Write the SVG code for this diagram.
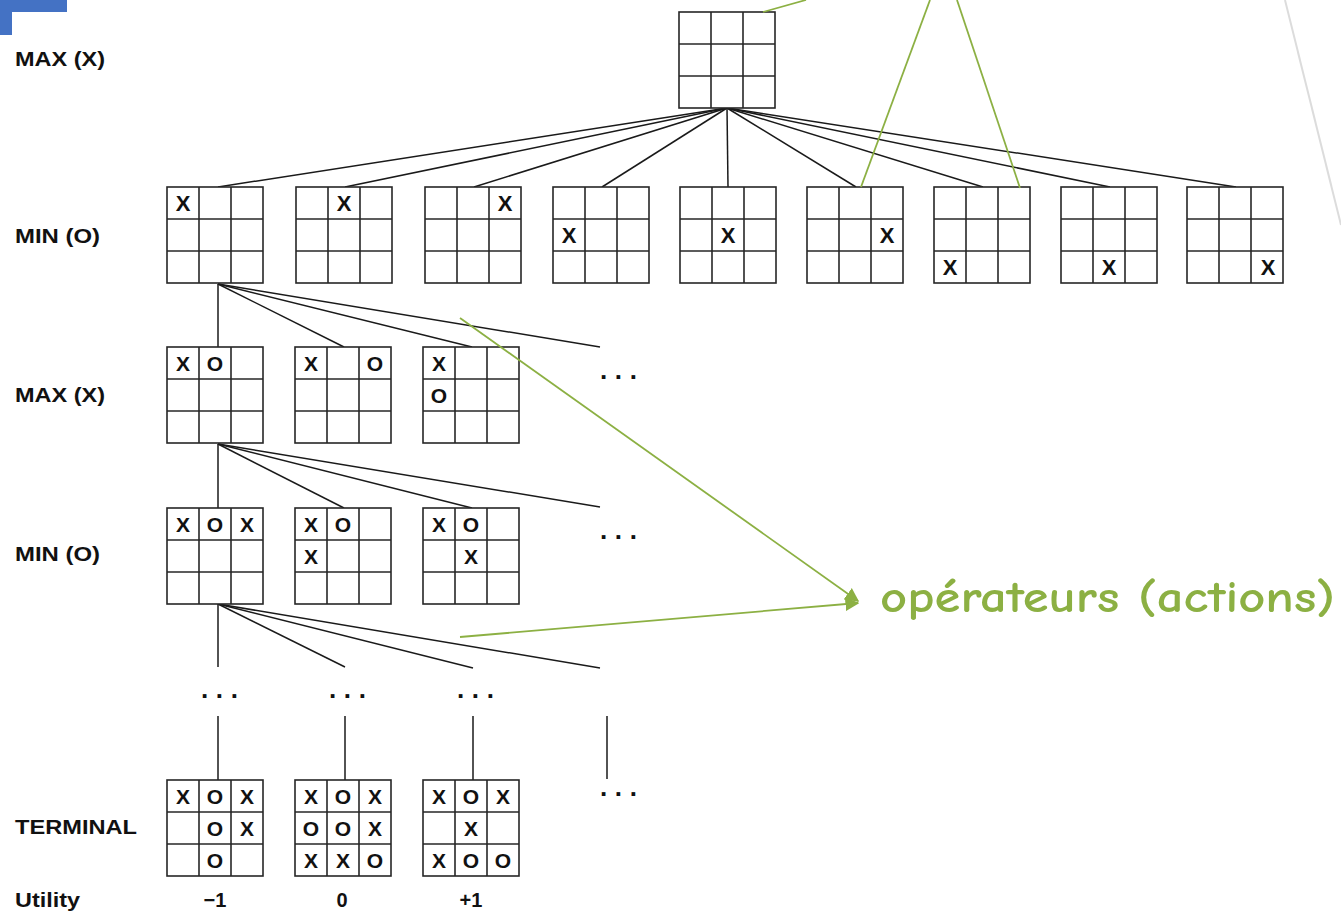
<svg xmlns="http://www.w3.org/2000/svg" xmlns:xlink="http://www.w3.org/1999/xlink" width="1341" height="917" viewBox="0 0 1341 917">
<style>
.grid{fill:#fff;stroke:#262626;stroke-width:1.6}
.gl{stroke:#262626;stroke-width:1.6}
.m{font-family:"Liberation Sans",Arial,sans-serif;font-weight:bold;font-size:21px;fill:#111;text-anchor:middle}
.m1{font-size:22px}
.lab{font-family:"Liberation Sans",Arial,sans-serif;font-weight:bold;font-size:21px;fill:#111}
.ut{font-family:"Liberation Sans",Arial,sans-serif;font-weight:bold;font-size:20px;fill:#111;text-anchor:middle}
.dots{font-family:"Liberation Sans",Arial,sans-serif;font-weight:bold;font-size:26px;fill:#111;letter-spacing:7.6px}
.e{stroke:#1a1a1a;stroke-width:1.5;fill:none}
.g{stroke:#8CB043;stroke-width:1.8;fill:none}
.note{font-family:"Comic Neue","Comic Sans MS","DejaVu Sans",sans-serif;font-weight:bold;font-size:44px;fill:#8CB043}
</style>
<defs>
<g id="board">
<rect class="grid" x="0" y="0" width="96" height="96"/>
<line class="gl" x1="32" y1="0" x2="32" y2="96"/>
<line class="gl" x1="64" y1="0" x2="64" y2="96"/>
<line class="gl" x1="0" y1="32" x2="96" y2="32"/>
<line class="gl" x1="0" y1="64" x2="96" y2="64"/>
</g>
<marker id="ah2" viewBox="0 0 10 10" refX="9" refY="5" markerWidth="14" markerHeight="14" orient="auto" markerUnits="userSpaceOnUse">
<path d="M0,0 L10,5 L0,10 z" fill="#8CB043"/>
</marker>
</defs>

<path d="M0,0 H67 V12 H12 V35 H0 Z" fill="#4472C4"/>
<line x1="1285" y1="0" x2="1341" y2="225" stroke="#dcdcdc" stroke-width="2"/>

<g id="labels">
<text class="lab" x="15" y="66" textLength="90" lengthAdjust="spacingAndGlyphs">MAX (X)</text>
<text class="lab" x="15" y="243" textLength="85" lengthAdjust="spacingAndGlyphs">MIN (O)</text>
<text class="lab" x="15" y="402" textLength="90" lengthAdjust="spacingAndGlyphs">MAX (X)</text>
<text class="lab" x="15" y="561" textLength="85" lengthAdjust="spacingAndGlyphs">MIN (O)</text>
<text class="lab" x="15" y="834" textLength="122" lengthAdjust="spacingAndGlyphs">TERMINAL</text>
<text class="lab" x="15" y="907" textLength="65" lengthAdjust="spacingAndGlyphs">Utility</text>
</g>

<g id="connectors">
<line class="e" x1="727" y1="108" x2="218" y2="187"/>
<line class="e" x1="727" y1="108" x2="345" y2="187"/>
<line class="e" x1="727" y1="108" x2="474" y2="187"/>
<line class="e" x1="727" y1="108" x2="602" y2="187"/>
<line class="e" x1="727" y1="108" x2="728" y2="187"/>
<line class="e" x1="727" y1="108" x2="856" y2="187"/>
<line class="e" x1="727" y1="108" x2="983" y2="187"/>
<line class="e" x1="727" y1="108" x2="1110" y2="187"/>
<line class="e" x1="727" y1="108" x2="1236" y2="187"/>

<line class="e" x1="218" y1="284" x2="218" y2="347"/>
<line class="e" x1="218" y1="284" x2="344" y2="347"/>
<line class="e" x1="218" y1="284" x2="472" y2="347"/>
<line class="e" x1="218" y1="284" x2="600" y2="347"/>

<line class="e" x1="218" y1="444" x2="218" y2="508"/>
<line class="e" x1="218" y1="444" x2="344" y2="508"/>
<line class="e" x1="218" y1="444" x2="472" y2="508"/>
<line class="e" x1="218" y1="444" x2="600" y2="507"/>

<line class="e" x1="218" y1="604" x2="218" y2="667"/>
<line class="e" x1="218" y1="604" x2="345" y2="667"/>
<line class="e" x1="218" y1="604" x2="473" y2="668"/>
<line class="e" x1="218" y1="604" x2="600" y2="668"/>

<line class="e" x1="218" y1="716" x2="218" y2="780"/>
<line class="e" x1="345" y1="716" x2="345" y2="780"/>
<line class="e" x1="473" y1="716" x2="473" y2="780"/>
<line class="e" x1="607" y1="716" x2="607" y2="779"/>

<text class="dots" x="600" y="379">...</text>
<text class="dots" x="600" y="539">...</text>
<text class="dots" x="201" y="698">...</text>
<text class="dots" x="329" y="698">...</text>
<text class="dots" x="457" y="698">...</text>
<text class="dots" x="600" y="796">...</text>
</g>

<g id="root"><use xlink:href="#board" x="679" y="12"/></g>

<g id="l1">
<g id="n1a"><use xlink:href="#board" x="167" y="187"/><text class="m m1" x="183" y="211">X</text></g>
<g id="n1b"><use xlink:href="#board" x="296" y="187"/><text class="m m1" x="344" y="211">X</text></g>
<g id="n1c"><use xlink:href="#board" x="425" y="187"/><text class="m m1" x="505" y="211">X</text></g>
<g id="n1d"><use xlink:href="#board" x="553" y="187"/><text class="m m1" x="569" y="243">X</text></g>
<g id="n1e"><use xlink:href="#board" x="680" y="187"/><text class="m m1" x="728" y="243">X</text></g>
<g id="n1f"><use xlink:href="#board" x="807" y="187"/><text class="m m1" x="887" y="243">X</text></g>
<g id="n1g"><use xlink:href="#board" x="934" y="187"/><text class="m m1" x="950" y="275">X</text></g>
<g id="n1h"><use xlink:href="#board" x="1061" y="187"/><text class="m m1" x="1109" y="275">X</text></g>
<g id="n1i"><use xlink:href="#board" x="1187" y="187"/><text class="m m1" x="1268" y="275">X</text></g>
</g>

<g id="l2">
<g id="n2a"><use xlink:href="#board" x="167" y="347"/><text class="m" x="183" y="371">X</text><text class="m" x="215" y="371">O</text></g>
<g id="n2b"><use xlink:href="#board" x="295" y="347"/><text class="m" x="311" y="371">X</text><text class="m" x="375" y="371">O</text></g>
<g id="n2c"><use xlink:href="#board" x="423" y="347"/><text class="m" x="439" y="371">X</text><text class="m" x="439" y="403">O</text></g>
</g>

<g id="l3">
<g id="n3a"><use xlink:href="#board" x="167" y="508"/><text class="m" x="183" y="532">X</text><text class="m" x="215" y="532">O</text><text class="m" x="247" y="532">X</text></g>
<g id="n3b"><use xlink:href="#board" x="295" y="508"/><text class="m" x="311" y="532">X</text><text class="m" x="343" y="532">O</text><text class="m" x="311" y="564">X</text></g>
<g id="n3c"><use xlink:href="#board" x="423" y="508"/><text class="m" x="439" y="532">X</text><text class="m" x="471" y="532">O</text><text class="m" x="471" y="564">X</text></g>
</g>

<g id="terminal">
<g id="t1"><use xlink:href="#board" x="167" y="780"/>
<text class="m" x="183" y="804">X</text><text class="m" x="215" y="804">O</text><text class="m" x="247" y="804">X</text>
<text class="m" x="215" y="836">O</text><text class="m" x="247" y="836">X</text>
<text class="m" x="215" y="868">O</text></g>
<g id="t2"><use xlink:href="#board" x="295" y="780"/>
<text class="m" x="311" y="804">X</text><text class="m" x="343" y="804">O</text><text class="m" x="375" y="804">X</text>
<text class="m" x="311" y="836">O</text><text class="m" x="343" y="836">O</text><text class="m" x="375" y="836">X</text>
<text class="m" x="311" y="868">X</text><text class="m" x="343" y="868">X</text><text class="m" x="375" y="868">O</text></g>
<g id="t3"><use xlink:href="#board" x="423" y="780"/>
<text class="m" x="439" y="804">X</text><text class="m" x="471" y="804">O</text><text class="m" x="503" y="804">X</text>
<text class="m" x="471" y="836">X</text>
<text class="m" x="439" y="868">X</text><text class="m" x="471" y="868">O</text><text class="m" x="503" y="868">O</text></g>
<text class="ut" x="215" y="907">−1</text>
<text class="ut" x="342" y="907">0</text>
<text class="ut" x="471" y="907">+1</text>
</g>

<g id="annotations">
<line class="g" x1="763" y1="12" x2="806" y2="0"/>
<line class="g" x1="861" y1="187" x2="930" y2="0"/>
<line class="g" x1="957" y1="0" x2="1020" y2="188"/>
<line class="g" x1="460" y1="318" x2="858" y2="601" marker-end="url(#ah2)"/>
<line class="g" x1="460" y1="637" x2="858" y2="603" marker-end="url(#ah2)"/>
<text class="note" x="880" y="612" textLength="455" lengthAdjust="spacingAndGlyphs">opérateurs (actions)</text>
</g>
</svg>
